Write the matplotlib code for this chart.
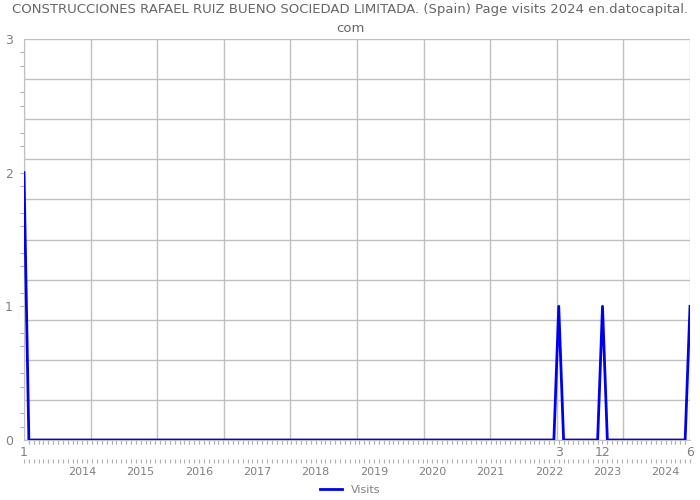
import numpy as np
import matplotlib
matplotlib.use("Agg")
import matplotlib.pyplot as plt

# monthly page visits, Jan 2013 .. Jun 2024
visits_by_year = {
    2013: [2, 0, 0, 0, 0, 0, 0, 0, 0, 0, 0, 0],
    2014: [0, 0, 0, 0, 0, 0, 0, 0, 0, 0, 0, 0],
    2015: [0, 0, 0, 0, 0, 0, 0, 0, 0, 0, 0, 0],
    2016: [0, 0, 0, 0, 0, 0, 0, 0, 0, 0, 0, 0],
    2017: [0, 0, 0, 0, 0, 0, 0, 0, 0, 0, 0, 0],
    2018: [0, 0, 0, 0, 0, 0, 0, 0, 0, 0, 0, 0],
    2019: [0, 0, 0, 0, 0, 0, 0, 0, 0, 0, 0, 0],
    2020: [0, 0, 0, 0, 0, 0, 0, 0, 0, 0, 0, 0],
    2021: [0, 0, 0, 0, 0, 0, 0, 0, 0, 0, 0, 0],
    2022: [0, 0, 1, 0, 0, 0, 0, 0, 0, 0, 0, 1],
    2023: [0, 0, 0, 0, 0, 0, 0, 0, 0, 0, 0, 0],
    2024: [0, 0, 0, 0, 0, 1],
}
year_labels = ["2014", "2015", "2016", "2017", "2018", "2019", "2020", "2021", "2022", "2023", "2024"]
peak_labels = [(2013, 1, "1"), (2022, 3, "3"), (2022, 12, "12"), (2024, 6, "6")]
title = "CONSTRUCCIONES RAFAEL RUIZ BUENO SOCIEDAD LIMITADA. (Spain) Page visits 2024 en.datocapital.\ncom"

visits = []
for y in sorted(visits_by_year):
    visits += visits_by_year[y]
x = np.arange(len(visits))
first_year = min(visits_by_year)

def month_idx(year, month):
    return (year - first_year) * 12 + month - 1

grey = "#808080"
gridc = "#c0c0c0"
tickc = "#b0b0b0"

fig = plt.figure(figsize=(7, 5), dpi=100)
ax = fig.add_axes([24 / 700, 1 - 440 / 500, 666 / 700, 401 / 500])

ax.plot(x, visits, color="#0000ee", lw=2, label="Visits", zorder=5)
ax.set_xlim(0, len(visits) - 1)
ax.set_ylim(0, 3)

# grid: 10 even divisions each way
ax.set_xticks(np.linspace(0, len(visits) - 1, 11))
ax.set_xticklabels([])
ax.set_yticks(np.linspace(0, 3, 11))
ax.set_yticklabels([])
ax.tick_params(axis="both", which="major", length=0)
ax.grid(True, which="major", color=gridc, lw=1)
ax.set_xticks(x, minor=True)
ax.set_yticks(np.arange(0, 3.01, 0.1), minor=True)
ax.tick_params(axis="x", which="minor", length=3, color=tickc, width=0.8, bottom=True)
ax.tick_params(axis="y", which="minor", length=3, color=tickc, width=0.8, left=True)
for s in ["top", "right"]:
    ax.spines[s].set_visible(False)
for s in ["left", "bottom"]:
    ax.spines[s].set_color(gridc)

# y labels
sy = ax.secondary_yaxis("left")
sy.set_yticks([0, 1, 2, 3])
sy.tick_params(length=0, labelsize=9, labelcolor=grey, pad=8)
sy.spines["left"].set_visible(False)

# month labels under the peaks
sx = ax.secondary_xaxis("bottom")
sx.set_xticks([month_idx(yy, mm) for yy, mm, _ in peak_labels])
sx.set_xticklabels([lab for _, _, lab in peak_labels])
sx.set_xticks(x, minor=True)
sx.tick_params(which="major", length=0, labelsize=9, labelcolor=grey, pad=4)
sx.tick_params(which="minor", length=3, color=tickc, width=0.8)
sx.spines["bottom"].set_visible(False)

# year row
sx2 = ax.secondary_xaxis(-0.047)
sx2.set_xticks([month_idx(int(yl), 1) for yl in year_labels])
sx2.set_xticklabels(year_labels)
sx2.set_xticks(x, minor=True)
sx2.tick_params(which="major", length=3, color=tickc, width=0.8, labelsize=8, labelcolor=grey, pad=3)
sx2.tick_params(which="minor", length=3, color=tickc, width=0.8)
sx2.spines["bottom"].set_visible(False)

fig.suptitle(title, fontsize=9.5, color="#666666", y=0.993, linespacing=1.6)
fig.legend(loc="lower center", bbox_to_anchor=(0.5, -0.01), frameon=False,
           fontsize=8, labelcolor=grey, handlelength=2)

fig.savefig("out.png", dpi=100)
